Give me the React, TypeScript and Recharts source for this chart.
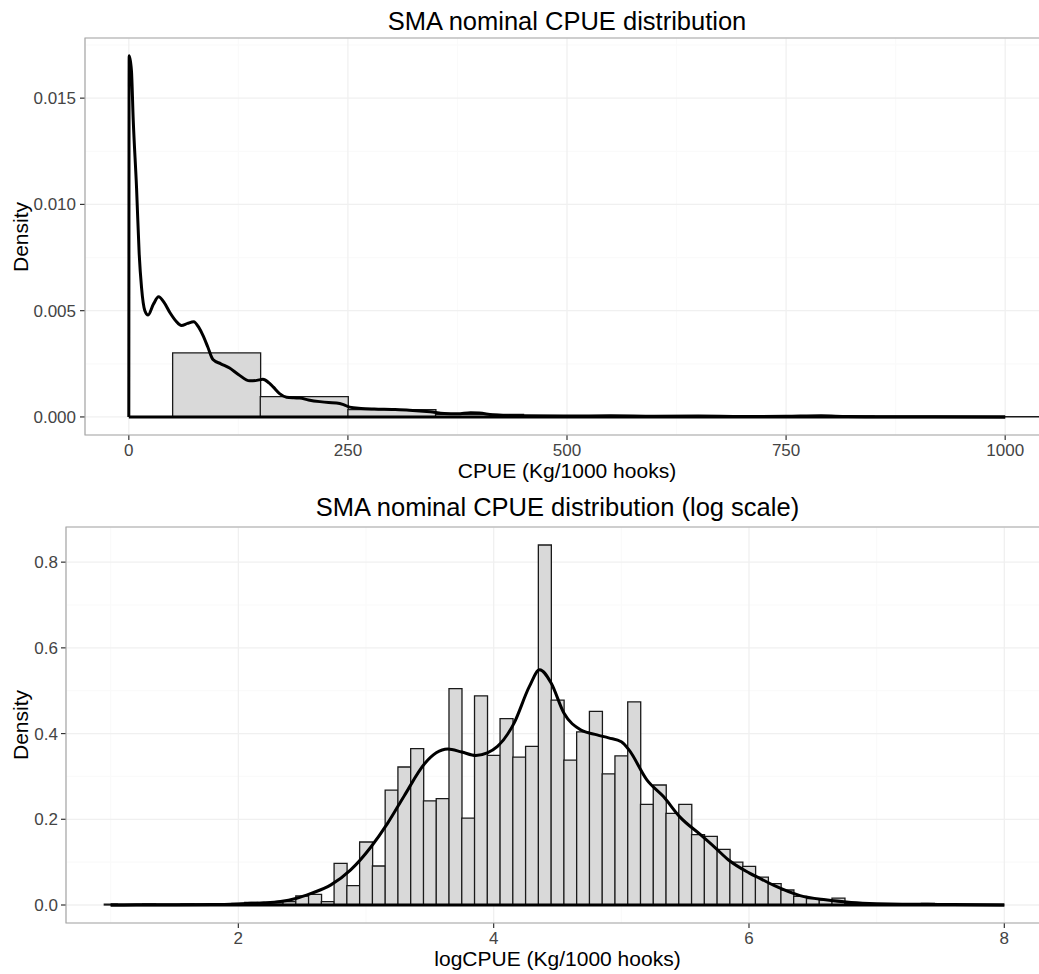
import React from 'react';
import {
  BarChart,
  Bar,
  LineChart,
  Line,
  XAxis,
  YAxis,
  CartesianGrid,
  ReferenceLine,
  ReferenceArea,
} from 'recharts';

const FONT = '"Liberation Sans", Arial, Helvetica, sans-serif';
const W = 1060;
const H = 487;

// ---- nominal CPUE (binwidth 100) ----
const cpueBins = [0, 100, 200, 300, 400, 500, 600, 700, 800, 900, 1000];
const cpueBinDensity = [0, 0.00301, 0.000955, 0.00034, 0.00012, 0.00005, 0.00003, 0.00002, 0.00004, 0, 0.00001];

const cpueCurveX = [
  0, 0.4, 3, 5, 8.8, 11.8, 14.5, 18.3, 22, 28, 34, 40, 47, 54, 60, 67, 74, 80, 85, 90, 96, 105,
  115, 125, 138, 146, 153, 160, 165, 172, 180, 188, 195, 205, 218, 228, 237, 245, 252, 265, 280,
  300, 320, 344, 360, 375, 390, 400, 415, 427, 450, 500, 550, 600, 650, 700, 750, 790, 820, 870,
  920, 1000,
];
const cpueCurveY = [
  0, 0.0170, 0.0163, 0.0140, 0.0108, 0.0077, 0.0061, 0.0050, 0.0048, 0.0053, 0.00565, 0.0054,
  0.0049, 0.0045, 0.0043, 0.0044, 0.00448, 0.0042, 0.0038, 0.0033, 0.0027, 0.0025, 0.0023,
  0.0020, 0.0017, 0.00172, 0.00177, 0.0016, 0.0014, 0.0011, 0.00093, 0.0009, 0.00089, 0.0008,
  0.00072, 0.00068, 0.00066, 0.00058, 0.00046, 0.0004, 0.00037, 0.00035, 0.00032, 0.00024,
  0.00016, 0.00015, 0.0002, 0.00018, 0.0001, 0.00007, 0.00005, 0.00004, 0.00005, 0.00003,
  0.00004, 0.00002, 0.00003, 0.00005, 0.00002, 0.00001, 0.00001, 0,
];
const cpueTicksX = [0, 250, 500, 750, 1000];
const cpueMinorX = [125, 375, 625, 875];
const cpueTicksY = [0, 0.005, 0.01, 0.015];
const cpueMinorY = [0.0025, 0.0075, 0.0125, 0.0175];

// ---- log CPUE (binwidth 0.1) ----
const logBins = [
  1.0, 1.1, 1.2, 1.3, 1.4, 1.5, 1.6, 1.7, 1.8, 1.9,
  2.0, 2.1, 2.2, 2.3, 2.4, 2.5, 2.6, 2.7, 2.8, 2.9,
  3.0, 3.1, 3.2, 3.3, 3.4, 3.5, 3.6, 3.7, 3.8, 3.9,
  4.0, 4.1, 4.2, 4.3, 4.4, 4.5, 4.6, 4.7, 4.8, 4.9,
  5.0, 5.1, 5.2, 5.3, 5.4, 5.5, 5.6, 5.7, 5.8, 5.9,
  6.0, 6.1, 6.2, 6.3, 6.4, 6.5, 6.6, 6.7, 6.8, 6.9,
  7.0, 7.1, 7.2, 7.3, 7.4, 7.5, 7.6, 7.7, 7.8, 7.9, 8.0,
];
const logBinDensity = [
  0.002, 0, 0, 0.002, 0, 0, 0.002, 0, 0.002, 0.002,
  0.004, 0.006, 0.004, 0.005, 0.008, 0.021, 0.025, 0.008, 0.097, 0.045,
  0.147, 0.091, 0.268, 0.322, 0.365, 0.243, 0.248, 0.505, 0.2025, 0.488,
  0.349, 0.435, 0.345, 0.37, 0.84, 0.478, 0.338, 0.404, 0.452, 0.306,
  0.348, 0.474, 0.235, 0.28, 0.214, 0.235, 0.164, 0.16, 0.13, 0.1,
  0.09, 0.065, 0.05, 0.035, 0.02, 0.015, 0.012, 0.016, 0.004, 0.002,
  0.002, 0.001, 0.002, 0.003, 0.004, 0.002, 0, 0, 0, 0, 0,
];

const logCurveX = [
  1.0, 1.2, 1.5, 1.8, 1.94, 2.1, 2.2, 2.33, 2.45, 2.57, 2.725, 2.88, 3.04, 3.17, 3.3, 3.46,
  3.55, 3.64, 3.75, 3.86, 3.95, 4.03, 4.16, 4.28, 4.36, 4.45, 4.55, 4.68, 4.81, 4.9, 5.0, 5.06,
  5.2, 5.33, 5.46, 5.62, 5.73, 5.84, 6.0, 6.1, 6.2, 6.4, 6.6, 6.8, 7.0, 7.2, 7.4, 7.6, 8.0,
];
const logCurveY = [
  0, 0.0003, 0.0005, 0.0012, 0.002, 0.004, 0.005, 0.008, 0.015, 0.027, 0.047, 0.082, 0.136,
  0.191, 0.255, 0.33, 0.355, 0.364, 0.357, 0.349, 0.355, 0.37, 0.4245, 0.51, 0.549, 0.518,
  0.448, 0.409, 0.397, 0.39, 0.381, 0.362, 0.292, 0.253, 0.205, 0.164, 0.135, 0.105, 0.075,
  0.06, 0.045, 0.022, 0.012, 0.006, 0.003, 0.002, 0.002, 0.001, 0,
];
const logTicksX = [2, 4, 6, 8];
const logMinorX = [1, 3, 5, 7];
const logTicksY = [0, 0.2, 0.4, 0.6, 0.8];
const logMinorY = [0.1, 0.3, 0.5, 0.7];

const Label = ({ x, y, size, color, rotate, children }: any) => (
  <div
    style={{
      position: 'absolute',
      left: x,
      top: y,
      transform: `translate(-50%, -50%)${rotate ? ' rotate(-90deg)' : ''}`,
      fontFamily: FONT,
      fontSize: size,
      lineHeight: 1,
      color: color || '#000',
      whiteSpace: 'nowrap',
    }}
  >
    {children}
  </div>
);

const Panel = (p: any) => {
  const histData = p.bins.map((x: number, i: number) => ({ x, d: p.heights[i] }));
  const curveData = p.curveX.map((x: number, i: number) => ({ x, y: p.curveY[i] }));
  const tickStyle = { fill: '#444', fontSize: 17, fontFamily: FONT };
  const tickLine = { stroke: '#333', strokeWidth: 1.2 };
  const first = p.curveX[0];
  const last = p.curveX[p.curveX.length - 1];
  const plotRight = W - 11;
  const cx = (p.yW + plotRight) / 2;
  const plotBottom = H - p.xH;

  return (
    <div style={{ position: 'absolute', left: 0, top: p.top, width: W, height: H }}>
      <div style={{ position: 'absolute', left: 0, top: 0 }}>
        <BarChart
          width={W}
          height={H}
          data={histData}
          margin={{ top: p.mTop, right: 11, bottom: 0, left: 0 }}
          barCategoryGap={0}
          barGap={0}
        >
          {/* minor then major grid, ggplot theme_bw style */}
          <CartesianGrid stroke="#fafafa" strokeWidth={1.2} verticalValues={p.minorX} horizontalValues={p.minorY} />
          <CartesianGrid stroke="#f0f0f0" strokeWidth={1.3} />
          <XAxis
            type="number"
            dataKey="x"
            domain={p.xDomain}
            ticks={p.ticksX}
            interval={0}
            height={p.xH}
            tickSize={5}
            tickMargin={4}
            axisLine={false}
            tickLine={tickLine}
            tick={tickStyle}
            allowDataOverflow
          />
          <YAxis
            type="number"
            domain={p.yDomain}
            ticks={p.ticksY}
            interval={0}
            width={p.yW}
            tickSize={5}
            tickMargin={p.yTickMargin}
            axisLine={false}
            tickLine={tickLine}
            tick={tickStyle}
            tickFormatter={p.yFmt}
            allowDataOverflow
          />
          <Bar dataKey="d" fill="#d9d9d9" stroke="#1a1a1a" strokeWidth={1.3} isAnimationActive={false} />
        </BarChart>
      </div>
      <div style={{ position: 'absolute', left: 0, top: 0 }}>
        <LineChart
          width={W}
          height={H}
          data={curveData}
          margin={{ top: p.mTop, right: 11, bottom: p.xH, left: p.yW }}
        >
          <XAxis hide type="number" dataKey="x" domain={p.xDomain} allowDataOverflow />
          <YAxis hide type="number" domain={p.yDomain} allowDataOverflow />
          <ReferenceArea
            x1={p.xDomain[0]}
            x2={p.xDomain[1]}
            y1={p.yDomain[0]}
            y2={p.yDomain[1]}
            fill="none"
            stroke="#a8a8a8"
            strokeWidth={1.2}
            ifOverflow="visible"
          />
          <ReferenceLine
            segment={[{ x: first, y: 0 }, { x: last, y: 0 }]}
            stroke="#000"
            strokeWidth={3}
          />
          <Line
            type="monotone"
            dataKey="y"
            stroke="#000"
            strokeWidth={3}
            dot={false}
            isAnimationActive={false}
          />
        </LineChart>
      </div>
      <Label x={cx} y={p.titleY} size={25.5}>{p.title}</Label>
      <Label x={cx} y={plotBottom + 35} size={21}>{p.xTitle}</Label>
      <Label x={20} y={(p.mTop + plotBottom) / 2} size={21} rotate>Density</Label>
    </div>
  );
};

export default function App() {
  return (
    <div
      style={{
        position: 'absolute',
        left: 0,
        top: 0,
        width: 1039,
        height: 974,
        overflow: 'hidden',
        background: '#fff',
      }}
    >
      <Panel
        top={0}
        mTop={38}
        yW={85}
        xH={52}
        yTickMargin={4}
        titleY={21.5}
        title="SMA nominal CPUE distribution"
        xTitle="CPUE (Kg/1000 hooks)"
        bins={cpueBins}
        heights={cpueBinDensity}
        curveX={cpueCurveX}
        curveY={cpueCurveY}
        xDomain={[-50, 1050]}
        yDomain={[-0.00085, 0.01783]}
        ticksX={cpueTicksX}
        ticksY={cpueTicksY}
        minorX={cpueMinorX}
        minorY={cpueMinorY}
        yFmt={(v: number) => v.toFixed(3)}
      />
      <Panel
        top={487}
        mTop={40}
        yW={66}
        xH={51}
        yTickMargin={3}
        titleY={21}
        title="SMA nominal CPUE distribution (log scale)"
        xTitle="logCPUE (Kg/1000 hooks)"
        bins={logBins}
        heights={logBinDensity}
        curveX={logCurveX}
        curveY={logCurveY}
        xDomain={[0.65, 8.35]}
        yDomain={[-0.042, 0.882]}
        ticksX={logTicksX}
        ticksY={logTicksY}
        minorX={logMinorX}
        minorY={logMinorY}
        yFmt={(v: number) => v.toFixed(1)}
      />
    </div>
  );
}
